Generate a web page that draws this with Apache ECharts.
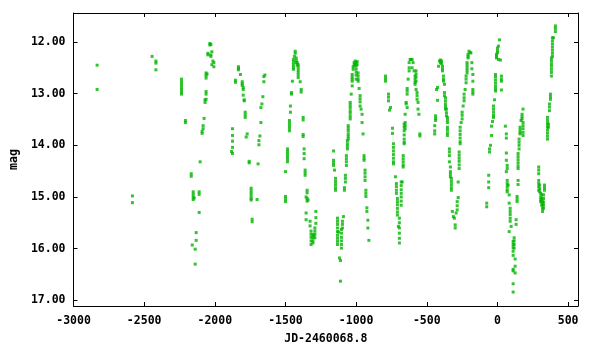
<!DOCTYPE html>
<html>
<head>
<meta charset="utf-8">
<script src="https://cdn.jsdelivr.net/npm/echarts@6/dist/echarts.min.js"></script>
<style>
html,body{margin:0;padding:0;background:#fff;}
#chart{width:600px;height:350px;}
</style>
</head>
<body>
<div id="chart"></div>
<script>
// Tick values
const xTicks = [-3000, -2500, -2000, -1500, -1000, -500, 0, 500];
const yTicks = [12, 13, 14, 15, 16, 17];

// Observations grouped by season: [JD-2460068.8, mag]
const season1 = [[-2833,12.45],[-2833,12.92],[-2583,14.98],[-2583,15.11],[-2444,12.28],[-2417,12.37],[-2417,12.41],[-2417,12.54]];

const season2 = [[-2236,12.72],[-2236,12.77],[-2236,12.82],[-2236,12.87],[-2236,12.92],[-2236,12.97],[-2236,13.01],
[-2208,13.52],[-2208,13.56],[-2167,14.55],[-2167,14.60],
[-2153,14.90],[-2153,14.95],[-2153,15.00],[-2153,15.05],[-2146,15.02],
[-2160,15.93],[-2139,16.01],[-2132,15.84],[-2132,15.69],[-2139,16.30],
[-2111,15.30],[-2111,14.90],[-2111,14.95],
[-2104,14.32],[-2090,13.73],[-2090,13.77],[-2083,13.62],[-2083,13.68],[-2076,13.48],[-2069,13.17],[-2069,13.12],[-2062,13.11],
[-2062,13.01],[-2062,12.96],[-2062,12.60],[-2062,12.65],[-2062,12.70],[-2055,12.62],
[-2049,12.22],[-2049,12.25],[-2035,12.03],[-2035,12.06],[-2028,12.05],[-2028,12.25],[-2028,12.28],[-2021,12.19],[-2014,12.37],[-2007,12.40],[-2021,12.44],[-2007,12.48]];

const season3 = [[-1875,13.68],[-1875,13.81],[-1875,13.92],[-1875,14.04],[-1875,14.16],[-1882,14.12],
[-1854,12.74],[-1854,12.78],[-1833,12.48],[-1833,12.51],[-1833,12.54],[-1819,12.63],
[-1806,12.77],[-1806,12.81],[-1806,12.84],[-1799,12.88],[-1799,12.92],[-1799,13.03],
[-1792,13.12],[-1792,13.14],[-1785,13.36],[-1785,13.41],[-1785,13.46],
[-1771,13.78],[-1778,13.84],[-1757,14.31],[-1757,14.34],
[-1743,14.83],[-1743,14.88],[-1743,14.93],[-1743,14.98],[-1743,15.03],[-1743,15.06],
[-1736,15.43],[-1736,15.48],[-1701,15.05],
[-1694,14.36],[-1688,13.99],[-1688,13.91],[-1681,13.82],[-1674,13.56],[-1674,13.27],[-1667,13.20],[-1660,13.06],[-1653,12.77],[-1653,12.67],[-1646,12.64]];

const season4 = [[-1500,14.51],[-1500,14.99],[-1500,15.04],[-1500,15.09],
[-1486,14.07],[-1486,14.12],[-1486,14.17],[-1486,14.22],[-1486,14.27],[-1486,14.32],
[-1472,13.52],[-1472,13.57],[-1472,13.62],[-1472,13.67],[-1472,13.72],
[-1465,13.24],[-1465,13.36],[-1458,13.01],[-1458,12.98],[-1451,12.76],
[-1444,12.34],[-1444,12.39],[-1444,12.44],[-1444,12.49],[-1444,12.53],
[-1437,12.28],[-1431,12.18],[-1431,12.22],[-1424,12.31],[-1424,12.36],[-1424,12.40],
[-1410,12.44],[-1410,12.49],[-1410,12.54],[-1410,12.59],[-1410,12.64],[-1410,12.69],
[-1417,12.40],[-1417,12.45],[-1396,12.77],[-1389,12.92],[-1389,12.97],
[-1375,13.46],[-1375,13.51],[-1375,13.79],[-1375,13.83],
[-1368,14.07],[-1368,14.16],[-1368,14.26],[-1361,14.48],[-1361,14.53],[-1361,14.58],
[-1347,14.87],[-1347,14.92],[-1354,15.00],[-1347,15.03],[-1347,15.08],[-1340,15.06],
[-1354,15.31],[-1354,15.44],[-1326,15.47],[-1326,15.56],
[-1319,15.66],[-1319,15.72],[-1319,15.78],[-1319,15.85],[-1319,15.92],
[-1306,15.73],[-1306,15.79],[-1306,15.85],[-1306,15.89],[-1299,15.75],
[-1292,15.60],[-1292,15.66],[-1292,15.72],[-1292,15.79],
[-1285,15.28],[-1285,15.40],[-1285,15.51]];

const season5 = [[-1160,14.11],[-1160,14.29],[-1160,14.34],[-1160,14.39],[-1153,14.48],
[-1146,14.64],[-1146,14.70],[-1146,14.76],[-1146,14.82],[-1146,14.87],
[-1132,15.41],[-1132,15.47],[-1132,15.53],[-1132,15.60],[-1132,15.67],[-1132,15.74],[-1132,15.80],[-1132,15.86],[-1132,15.92],
[-1125,15.68],[-1118,16.18],[-1111,16.23],[-1111,16.63],
[-1104,15.63],[-1104,15.70],[-1104,15.78],[-1104,15.85],[-1104,15.92],[-1104,15.99],
[-1097,15.47],[-1097,15.53],[-1097,15.60],[-1090,15.38],
[-1083,14.87],[-1083,14.82],[-1076,14.58],[-1076,14.64],[-1076,14.71],
[-1069,14.20],[-1069,14.26],[-1069,14.32],[-1069,14.39],
[-1062,13.91],[-1062,13.97],[-1062,14.02],[-1062,14.07],
[-1056,13.62],[-1056,13.67],[-1056,13.72],[-1056,13.78],[-1056,13.83],[-1056,13.88],
[-1042,13.17],[-1042,13.22],[-1042,13.27],[-1042,13.33],[-1042,13.38],[-1042,13.44],[-1042,13.49],
[-1035,13.01],[-1028,12.85],[-1028,12.63],[-1028,12.68],[-1028,12.72],[-1028,12.76],
[-1021,12.53],[-1021,12.48],[-1014,12.40],[-1014,12.45],[-1007,12.37],[-1007,12.43],
[-1000,12.40],[-1000,12.46],[-1000,12.52],[-1000,12.58],[-1000,12.64],[-1000,12.72],
[-993,12.38],[-993,12.44],[-986,12.60],[-986,12.66],[-986,12.72],[-986,12.76],
[-979,12.90],[-972,13.04],[-972,13.10],[-972,13.16],[-972,13.24],
[-965,13.30],[-958,13.40],[-958,13.56],[-951,13.78],
[-944,14.20],[-944,14.25],[-944,14.29],[-937,14.48],[-937,14.54],[-937,14.61],[-937,14.68],
[-931,14.87],[-931,14.93],[-931,14.99],[-924,15.21],[-924,15.28],
[-917,15.45],[-917,15.60],[-910,15.84]];

const season6 = [[-792,12.66],[-792,12.71],[-792,12.76],[-771,13.01],[-771,13.07],[-771,13.14],
[-764,13.32],[-757,13.27],[-743,13.67],[-743,13.77],
[-736,13.97],[-736,14.04],[-736,14.11],[-736,14.18],[-736,14.25],[-736,14.32],[-736,14.36],
[-722,14.61],[-715,14.74],[-715,14.80],[-715,14.87],[-715,14.93],
[-708,15.03],[-708,15.09],[-708,15.15],[-708,15.22],[-708,15.29],[-708,15.35],
[-701,15.57],[-694,15.41],[-694,15.50],[-694,15.60],[-694,15.70],[-694,15.80],[-694,15.89],
[-681,14.71],[-681,14.78],[-681,14.86],[-681,14.93],[-681,15.00],[-681,15.08],[-681,15.16],
[-674,14.71],[-667,14.20],[-667,14.26],[-667,14.32],[-667,14.38],[-667,14.42],
[-660,13.88],[-660,13.94],[-660,13.97],[-660,13.59],[-660,13.65],[-660,13.72],[-660,13.80],
[-653,13.56],[-653,13.62],[-653,13.68],[-653,13.40],[-646,13.17],[-646,13.20],
[-639,13.01],[-639,12.90],[-639,13.27],[-639,12.95],[-632,12.72],
[-625,12.56],[-625,12.40],[-625,12.50],[-618,12.34],[-611,12.34],[-604,12.34],[-604,12.50],
[-597,12.40],[-590,12.56],[-583,12.66],[-583,12.72],[-583,12.78],[-583,12.82],
[-576,12.56],[-576,12.62],[-576,12.68],[-576,12.76],[-576,12.92],
[-569,12.98],[-569,13.04],[-569,13.11],[-562,13.17],[-562,13.30],[-556,13.40],[-549,13.78],[-549,13.82]];

const season7 = [[-444,13.62],[-444,13.72],[-444,13.78],[-438,13.43],[-438,13.48],[-438,13.52],
[-431,12.92],[-424,12.88],[-424,13.13],[-417,12.47],[-410,12.37],[-403,12.40],[-403,12.35],[-396,12.37],[-396,12.42],
[-389,12.47],[-389,12.52],[-389,12.56],[-382,12.66],[-382,12.72],[-382,12.76],
[-375,12.82],[-375,12.98],[-375,13.04],[-368,13.08],[-368,13.14],[-368,13.20],[-368,13.25],[-368,13.30],
[-361,13.30],[-361,13.37],[-361,13.43],
[-354,13.46],[-354,13.51],[-354,13.56],[-354,13.65],[-354,13.70],[-354,13.76],[-354,13.81],
[-340,14.07],[-340,14.13],[-340,14.20],[-340,14.32],[-333,14.42],[-333,14.51],[-333,14.56],[-333,14.61],
[-326,14.64],[-326,14.70],[-326,14.76],[-326,14.82],[-326,14.87],
[-319,15.28],[-312,15.38],[-305,15.41],[-299,15.54],[-299,15.60],[-292,15.31],
[-285,15.09],[-285,15.17],[-285,15.25],[-278,14.71],[-278,15.01],
[-271,14.13],[-271,14.19],[-271,14.25],[-271,14.31],[-271,14.38],[-271,14.45],
[-264,13.65],[-264,13.72],[-264,13.79],[-264,13.86],[-264,13.93],[-264,13.97],
[-257,13.56],[-250,13.36],[-250,13.42],[-250,13.49],[-243,13.24],
[-236,13.01],[-236,13.08],[-236,13.14],[-229,12.92],[-222,12.66],[-222,12.72],[-222,12.79],
[-215,12.40],[-215,12.45],[-215,12.50],[-215,12.55],[-215,12.60],
[-208,12.24],[-208,12.28],[-208,12.31],[-201,12.18],[-194,12.21],[-188,12.21],
[-181,12.40],[-181,12.52],[-174,12.63],[-174,12.76],[-174,12.92],[-174,12.97],[-174,13.01]];

const season8 = [[-76,15.12],[-76,15.19],[-62,14.58],[-62,14.71],[-62,14.82],[-56,14.07],[-56,14.13],
[-49,14.00],[-42,13.81],[-42,13.63],[-35,13.54],
[-28,13.24],[-28,13.30],[-28,13.36],[-28,13.42],[-28,13.46],[-21,13.12],
[-14,12.63],[-14,12.68],[-14,12.74],[-14,12.80],[-14,12.86],[-14,12.91],[-14,12.95],
[-7,12.24],[-7,12.28],[-7,12.31],[0,12.12],[0,12.17],[0,12.21],[7,12.08],[7,12.34],
[14,11.96],[21,12.35],[28,12.66],[28,12.72],[28,12.76],[28,12.93],
[56,13.63],[63,13.78],[63,13.86],[63,14.15],[63,14.29],[63,14.51],
[69,14.39],[69,14.45],[69,14.68],[69,14.74],[69,14.80],[69,14.86],[69,14.90],
[76,14.77],[83,14.96],[83,15.12],[83,15.67],
[90,15.22],[90,15.28],[90,15.34],[90,15.41],[90,15.47],[97,15.57],
[111,15.86],[111,15.92],[111,15.98],[111,16.05],[111,16.13],[111,16.40],[111,16.43],[111,16.68],[111,16.84],
[118,15.79],[118,15.85],[118,15.92],[118,15.99],[125,16.20],[125,16.34],[125,16.47],
[132,15.44],[132,15.53],[139,14.99],[139,15.04],[139,15.09],
[146,14.68],[146,14.76],[146,14.16],[146,14.22],[146,14.28],[146,14.34],[146,14.40],[146,14.45],
[153,13.88],[153,13.94],[153,14.00],[153,14.07],[160,13.65],[160,13.70],[160,13.75],[160,13.78],
[167,13.52],[174,13.40],[174,13.45],[174,13.49],
[181,13.30],[181,13.56],[181,13.62],[181,13.68],[181,13.75],[181,13.81]];

const season9 = [[292,14.42],[292,14.48],[292,14.55],[292,14.68],[292,14.74],[292,14.80],[292,14.87],
[299,14.77],[299,14.84],[299,14.90],[306,14.93],[306,15.00],[306,15.05],[306,15.09],
[313,14.96],[313,15.03],[313,15.10],[313,15.16],[319,15.09],[319,15.15],[319,15.22],[319,15.28],
[326,14.96],[326,15.03],[326,15.10],[326,15.16],[326,15.22],[333,14.77],[333,14.82],[333,14.87],
[354,13.46],[354,13.52],[354,13.58],[354,13.64],[354,13.70],[354,13.76],[354,13.82],[354,13.88],
[361,13.59],[361,13.65],[368,13.20],[368,13.26],[368,13.33],[375,13.01],[375,13.06],[375,13.11],
[382,12.53],[382,12.59],[382,12.66],[382,12.31],[382,12.36],[382,12.42],[382,12.47],
[389,11.92],[389,11.98],[389,12.04],[389,12.10],[389,12.16],[389,12.22],[389,12.28],
[396,11.92],[410,11.69],[410,11.74],[410,11.80]];

const observations = [].concat(season1, season2, season3, season4, season5, season6, season7, season8, season9);

const FONT = "'DejaVu Sans Mono', 'Liberation Mono', monospace";
const labelStyle = { fontFamily: FONT, fontWeight: 'bold', fontSize: 11.5, color: '#000' };

function xAxisCfg(pos, showLabels) {
  return {
    type: 'value', position: pos, min: -3000, max: 570,
    axisLine: { show: true, onZero: false, lineStyle: { color: '#000', width: 1 } },
    axisTick: { show: true, inside: true, length: 4, customValues: xTicks, lineStyle: { color: '#000' } },
    axisLabel: Object.assign({ show: showLabels, margin: 9, customValues: xTicks,
      formatter: v => String(v) }, labelStyle),
    splitLine: { show: false }
  };
}
function yAxisCfg(pos, showLabels) {
  return {
    type: 'value', position: pos, inverse: true, min: 11.44, max: 17.11,
    axisLine: { show: true, onZero: false, lineStyle: { color: '#000', width: 1 } },
    axisTick: { show: true, inside: true, length: 4, customValues: yTicks, lineStyle: { color: '#000' } },
    axisLabel: Object.assign({ show: showLabels, margin: 8, customValues: yTicks,
      formatter: v => Number(v).toFixed(2) }, labelStyle),
    splitLine: { show: false }
  };
}

const xBottom = xAxisCfg('bottom', true);
xBottom.name = 'JD-2460068.8';
xBottom.nameLocation = 'middle';
xBottom.nameGap = 27;
xBottom.nameTextStyle = labelStyle;
const yLeft = yAxisCfg('left', true);
yLeft.name = 'mag';
yLeft.nameLocation = 'middle';
yLeft.nameRotate = 90;
yLeft.nameGap = 47;
yLeft.nameTextStyle = labelStyle;

const chart = echarts.init(document.getElementById('chart'), null, { renderer: 'canvas' });
chart.setOption({
  animation: false,
  backgroundColor: '#fff',
  grid: { left: 65, right: 22, top: 13, bottom: 42, containLabel: false },
  xAxis: [xBottom, xAxisCfg('top', false)],
  yAxis: [yLeft, yAxisCfg('right', false)],
  series: [{
    type: 'scatter',
    xAxisIndex: 0, yAxisIndex: 0,
    symbol: 'rect', symbolSize: 3,
    itemStyle: { color: '#00b400' },
    data: observations
  }]
});
</script>
</body>
</html>
